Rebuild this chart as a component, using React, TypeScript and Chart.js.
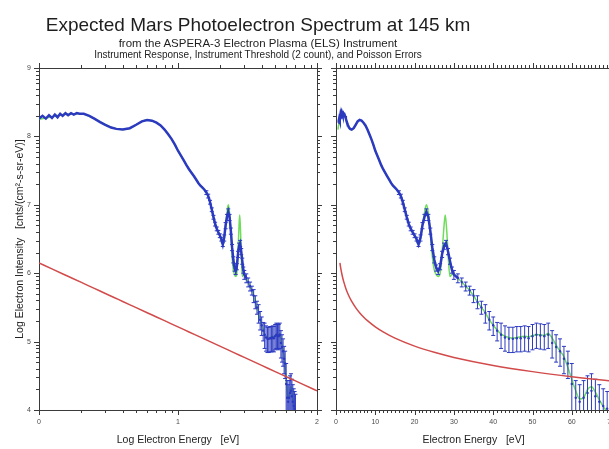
import React, { useEffect, useRef } from 'react';
import { Chart, registerables } from 'chart.js';

Chart.register(...registerables);

// ---------------- data ----------------
const blueEnergy = [
  0.6, 0.7, 0.8, 0.9, 1.0, 1.06, 1.12, 1.18, 1.24, 1.3, 1.36, 1.42, 1.48, 1.55, 1.62, 1.7, 1.78, 1.87, 1.96,
  2.1, 2.3, 2.5, 2.75, 3.0, 3.3, 3.6, 4.0, 4.5,
  5.0, 5.5, 6.0, 6.5, 7.0, 7.5, 8.0, 8.5, 9.0, 9.5, 10, 10.5, 11, 11.5, 12, 12.5, 13, 13.5, 14, 14.5, 15, 15.5,
  16, 16.5, 17, 17.5, 18, 18.5, 19, 19.5, 20, 20.5, 21, 21.5, 22, 22.5, 23, 23.5, 24, 24.5, 25, 25.5, 26, 26.5, 27, 27.5, 28, 28.5, 29, 29.5,
  30, 31, 32, 33, 34, 35, 36, 37, 38, 39, 40, 41, 42, 43, 44, 45, 46, 47, 48, 49,
  50, 51, 52, 53, 54, 55, 56, 57, 58, 59, 60, 61, 62, 63, 64, 65, 66, 67, 68, 69, 70,
];
const blueIntensity = [
  8.20, 8.23, 8.26, 8.23, 8.26, 8.30, 8.26, 8.31, 8.27, 8.32, 8.28, 8.33, 8.30, 8.34, 8.31, 8.34, 8.32, 8.34, 8.33,
  8.33, 8.30, 8.26, 8.21, 8.17, 8.13, 8.11, 8.10, 8.12,
  8.17, 8.22, 8.24, 8.23, 8.20, 8.16, 8.10, 8.03, 7.96, 7.88, 7.79, 7.72, 7.65, 7.58, 7.52, 7.47, 7.42, 7.37, 7.32, 7.28, 7.25, 7.22,
  7.18, 7.13, 7.04, 6.93, 6.82, 6.72, 6.65, 6.60, 6.55, 6.50, 6.42, 6.52, 6.70, 6.82, 6.90, 6.82, 6.62, 6.38, 6.20, 6.08, 6.03, 6.10, 6.28, 6.40, 6.44, 6.32, 6.18, 6.05,
  5.98, 5.93, 5.87, 5.81, 5.75, 5.67, 5.58, 5.50, 5.42, 5.32, 5.24, 5.16, 5.10, 5.06, 5.04, 5.04, 5.05, 5.05, 5.06, 5.05,
  5.08, 5.10, 5.09, 5.08, 5.10, 4.98, 4.92, 4.86, 4.75, 4.68, 4.38, 4.18, 4.12, 4.18, 4.25, 4.28, 4.20, 4.12, 4.06, 4.02, 3.98,
];
const blueErrUp = [
  0, 0, 0, 0, 0, 0, 0, 0, 0, 0, 0, 0, 0, 0, 0, 0, 0, 0, 0,
  0, 0, 0, 0, 0, 0, 0, 0, 0,
  0, 0, 0, 0, 0, 0, 0, 0, 0, 0, 0, 0, 0, 0, 0, 0, 0, 0, 0, 0, 0, 0,
  0.025, 0.025, 0.025, 0.025, 0.025, 0.025, 0.025, 0.025, 0.025, 0.025, 0.025,
  0.04, 0.04, 0.04, 0.04, 0.04, 0.04, 0.04, 0.04, 0.04, 0.04, 0.04, 0.04, 0.04, 0.04, 0.04, 0.04, 0.04,
  0.06, 0.06, 0.06, 0.06, 0.06, 0.09, 0.09, 0.09, 0.12, 0.12, 0.12, 0.12, 0.17, 0.17, 0.17, 0.17, 0.17, 0.17, 0.17, 0.17,
  0.17, 0.17, 0.17, 0.17, 0.17, 0.18, 0.18, 0.18, 0.18, 0.18, 0.30, 0.25, 0.25, 0.25, 0.25, 0.25, 0.25, 0.25, 0.25, 0.25, 0.25,
];
const blueErrDown = [
  0, 0, 0, 0, 0, 0, 0, 0, 0, 0, 0, 0, 0, 0, 0, 0, 0, 0, 0,
  0, 0, 0, 0, 0, 0, 0, 0, 0,
  0, 0, 0, 0, 0, 0, 0, 0, 0, 0, 0, 0, 0, 0, 0, 0, 0, 0, 0, 0, 0, 0,
  0.03, 0.03, 0.03, 0.03, 0.03, 0.03, 0.03, 0.03, 0.03, 0.03, 0.03,
  0.05, 0.05, 0.05, 0.05, 0.05, 0.05, 0.05, 0.05, 0.05, 0.05, 0.05, 0.05, 0.05, 0.05, 0.05, 0.05, 0.05,
  0.07, 0.07, 0.07, 0.07, 0.07, 0.10, 0.10, 0.10, 0.15, 0.15, 0.15, 0.15, 0.20, 0.20, 0.20, 0.20, 0.20, 0.20, 0.20, 0.20,
  0.20, 0.20, 0.20, 0.20, 0.20, 0.22, 0.22, 0.22, 0.22, 0.22, 0.50, 0.60, 0.60, 0.60, 0.60, 0.60, 0.60, 0.60, 0.60, 0.60, 0.60,
];

const greenEnergy = [
  0.5, 0.7, 0.9, 1.0, 1.2, 1.5, 2.0, 2.5, 3.0, 3.6, 4.0, 4.5, 5.0, 5.5, 6.0, 7.0, 8.0, 9.0, 10, 11, 12, 13, 14, 15,
  16, 17, 18, 19, 20, 21, 21.5, 22, 22.5, 23, 23.5, 24, 24.5, 25, 25.5, 26, 26.5, 27, 27.5, 27.8, 28.2, 28.6, 29, 29.5,
  30, 31, 32, 33, 34, 35, 36, 37, 38, 39, 40, 41, 42, 43, 44, 45, 46, 47, 48, 49, 50, 51, 52, 53, 54, 55, 56, 57, 58, 59,
  60, 61, 62, 63, 64, 65, 66, 67, 68, 69, 70, 71,
];
const greenIntensity = [
  8.10, 8.18, 8.22, 8.25, 8.28, 8.32, 8.33, 8.26, 8.17, 8.11, 8.10, 8.12, 8.17, 8.22, 8.24, 8.20, 8.10, 7.96, 7.79, 7.65, 7.52, 7.42, 7.32, 7.25,
  7.18, 7.04, 6.82, 6.65, 6.55, 6.42, 6.50, 6.70, 6.88, 7.00, 6.88, 6.60, 6.25, 6.05, 5.98, 5.95, 6.00, 6.30, 6.70, 6.85, 6.60, 6.20, 5.95, 5.98,
  5.98, 5.93, 5.87, 5.81, 5.75, 5.67, 5.58, 5.50, 5.42, 5.32, 5.24, 5.17, 5.11, 5.08, 5.06, 5.05, 5.06, 5.07, 5.08, 5.07, 5.09, 5.10, 5.10, 5.09, 5.12, 5.05, 4.95, 4.86, 4.78, 4.62,
  4.45, 4.28, 4.16, 4.18, 4.30, 4.34, 4.26, 4.15, 4.05, 3.98, 3.92, 3.85,
];

const thresholdEnergy = [1, 1.25, 1.5, 1.75, 2, 2.5, 3, 3.5, 4, 5, 6, 7, 8, 10, 12, 15, 20, 25, 30, 40, 50, 60, 70, 80, 100];
const thresholdIntensity = [
  6.15, 6.059, 5.985, 5.923, 5.869, 5.778, 5.704, 5.641, 5.587, 5.496, 5.422, 5.36, 5.306, 5.215, 5.141, 5.05, 4.934,
  4.843, 4.769, 4.652, 4.561, 4.487, 4.425, 4.371, 4.28,
];

const logEnergyTicks = [0, 1, 2];
const energyTicks = [0, 10, 20, 30, 40, 50, 60, 70];
const intensityTicks = [4, 5, 6, 7, 8, 9];

// ---------------- styles ----------------
const BLUE = '#2c3ac0';
const GREEN = '#6fdc5c';
const RED = '#d24a4a';
const AXIS = '#3a3a3a';
const LABEL = '#4a4a4a';
const FONT = '"Liberation Sans", Arial, Helvetica, sans-serif';

type Side = 'left' | 'right' | 'top' | 'bottom';
type TickDef = { id: string; side: Side; major: number[]; minor: number[] };

function makeTickPlugin(defs: TickDef[]) {
  return {
    id: 'customTicks',
    afterDraw(chart: any) {
      const ctx = chart.ctx as CanvasRenderingContext2D;
      const ca = chart.chartArea;
      ctx.save();
      ctx.strokeStyle = AXIS;
      ctx.lineWidth = 1;
      for (const d of defs) {
        const s = chart.scales[d.id];
        if (!s) continue;
        const draw = (v: number, len: number) => {
          const p = Math.round(s.getPixelForValue(v)) + 0.5;
          ctx.beginPath();
          if (d.side === 'bottom') {
            const y0 = Math.round(ca.bottom);
            ctx.moveTo(p, y0);
            ctx.lineTo(p, y0 + len);
          } else if (d.side === 'top') {
            const y0 = Math.round(ca.top);
            ctx.moveTo(p, y0);
            ctx.lineTo(p, y0 - len);
          } else if (d.side === 'left') {
            const x0 = Math.round(ca.left);
            ctx.moveTo(x0, p);
            ctx.lineTo(x0 - len, p);
          } else {
            const x0 = Math.round(ca.right);
            ctx.moveTo(x0, p);
            ctx.lineTo(x0 + len, p);
          }
          ctx.stroke();
        };
        d.minor.forEach((v) => draw(v, 3));
        d.major.forEach((v) => draw(v, 5));
      }
      ctx.restore();
    },
  };
}

const errorBarPlugin = {
  id: 'errorBars',
  afterDatasetDraw(chart: any, args: any) {
    const ds = chart.data.datasets[args.index];
    if (!ds.errUp) return;
    const ctx = chart.ctx as CanvasRenderingContext2D;
    const ca = chart.chartArea;
    const xs = chart.scales.x;
    const ys = chart.scales.y;
    ctx.save();
    ctx.beginPath();
    ctx.rect(ca.left, ca.top, ca.right - ca.left, ca.bottom - ca.top);
    ctx.clip();
    ctx.strokeStyle = BLUE;
    ctx.lineWidth = 1;
    ds.data.forEach((pt: any, i: number) => {
      const up = ds.errUp[i];
      const dn = ds.errDown[i];
      if (!up && !dn) return;
      const x = xs.getPixelForValue(pt.x);
      const y1 = ys.getPixelForValue(pt.y + up);
      const y2 = ys.getPixelForValue(pt.y - dn);
      ctx.beginPath();
      ctx.moveTo(x, y1);
      ctx.lineTo(x, y2);
      ctx.moveTo(x - 2, y1);
      ctx.lineTo(x + 2, y1);
      ctx.moveTo(x - 2, y2);
      ctx.lineTo(x + 2, y2);
      ctx.stroke();
    });
    ctx.restore();
  },
};

function logMinor(from: number, to: number): number[] {
  const out: number[] = [];
  for (let n = from; n < to; n++) for (let k = 2; k <= 9; k++) out.push(n + Math.log10(k));
  return out;
}
function linMinor(from: number, to: number, step: number): number[] {
  const out: number[] = [];
  for (let v = from; v <= to + 1e-9; v += step) out.push(v);
  return out;
}

function buildDatasets(tx: (e: number) => number, lineCut: number) {
  return [
    {
      label: 'threshold',
      data: thresholdEnergy.map((e, i) => ({ x: tx(e), y: thresholdIntensity[i] })),
      showLine: true,
      borderColor: RED,
      borderWidth: 1.5,
      pointRadius: 0,
      cubicInterpolationMode: 'monotone',
      order: 0,
    },
    {
      label: 'measured',
      data: blueEnergy.map((e, i) => ({ x: tx(e), y: blueIntensity[i] })),
      errUp: blueErrUp,
      errDown: blueErrDown,
      showLine: true,
      borderColor: BLUE,
      backgroundColor: BLUE,
      borderWidth: 2.5,
      pointRadius: (c: any) => (blueEnergy[c.dataIndex] > 30 ? 1.2 : 0),
      pointBorderWidth: 0,
      segment: {
        borderColor: (c: any) => (c.p0.parsed.x >= lineCut ? 'rgba(0,0,0,0)' : BLUE),
      },
      order: 1,
    },
    {
      label: 'model',
      data: greenEnergy.map((e, i) => ({ x: tx(e), y: greenIntensity[i] })),
      showLine: true,
      borderColor: GREEN,
      borderWidth: 1.5,
      pointRadius: 0,
      cubicInterpolationMode: 'monotone',
      order: 2,
    },
  ];
}

const tickFont = { family: FONT, size: 7 };
const titleFont = { family: FONT, size: 10.5 };

function baseOptions(scales: any) {
  return {
    animation: false,
    responsive: false,
    devicePixelRatio: 1,
    events: [],
    layout: { padding: 0 },
    plugins: { legend: { display: false }, tooltip: { enabled: false }, title: { display: false } },
    scales,
  };
}

export default function App() {
  const leftRef = useRef<HTMLCanvasElement>(null);
  const rightRef = useRef<HTMLCanvasElement>(null);

  useEffect(() => {
    const hidden = { display: false };
    const border = { display: true, color: AXIS, width: 1 };

    const left = new Chart(leftRef.current as HTMLCanvasElement, {
      type: 'scatter',
      data: { datasets: buildDatasets((e) => Math.log10(e), Math.log10(30.5)) as any },
      options: baseOptions({
        x: {
          type: 'linear', position: 'bottom', min: 0, max: 2,
          afterBuildTicks: (s: any) => { s.ticks = logEnergyTicks.map((v) => ({ value: v })); },
          afterFit: (s: any) => { s.height = 39; },
          grid: { display: false, drawTicks: true, tickLength: 5 },
          border,
          ticks: { font: tickFont, color: LABEL, padding: 3, maxRotation: 0, autoSkip: false, callback: (v: any) => String(v) },
          title: { display: true, text: 'Log Electron Energy   [eV]', font: titleFont, color: '#222', padding: { top: 0, bottom: 3 } },
        },
        xTop: {
          type: 'linear', position: 'top', min: 0, max: 2,
          afterFit: (s: any) => { s.height = 68; },
          grid: hidden, border, ticks: hidden,
        },
        y: {
          type: 'linear', position: 'left', min: 4, max: 9,
          afterBuildTicks: (s: any) => { s.ticks = intensityTicks.map((v) => ({ value: v })); },
          afterFit: (s: any) => { s.width = 39; },
          grid: { display: false, drawTicks: true, tickLength: 5 },
          border,
          ticks: { font: tickFont, color: LABEL, padding: 3, autoSkip: false, callback: (v: any) => String(v) },
          title: { display: true, text: 'Log Electron Intensity   [cnts/(cm²-s-sr-eV)]', font: titleFont, color: '#222', padding: { top: 13.5, bottom: 0 } },
        },
        yRight: {
          type: 'linear', position: 'right', min: 4, max: 9,
          afterFit: (s: any) => { s.width = 8; },
          grid: hidden, border, ticks: hidden,
        },
      }) as any,
      plugins: [
        errorBarPlugin,
        makeTickPlugin([
          { id: 'x', side: 'bottom', major: logEnergyTicks, minor: logMinor(0, 2) },
          { id: 'xTop', side: 'top', major: logEnergyTicks, minor: logMinor(0, 2) },
          { id: 'y', side: 'left', major: intensityTicks, minor: logMinor(4, 9) },
          { id: 'yRight', side: 'right', major: intensityTicks, minor: logMinor(4, 9) },
        ]),
      ],
    });

    const right = new Chart(rightRef.current as HTMLCanvasElement, {
      type: 'scatter',
      data: { datasets: buildDatasets((e) => e, 30.5) as any },
      options: baseOptions({
        x: {
          type: 'linear', position: 'bottom', min: 0, max: 70,
          afterBuildTicks: (s: any) => { s.ticks = energyTicks.map((v) => ({ value: v })); },
          afterFit: (s: any) => { s.height = 39; },
          grid: { display: false, drawTicks: true, tickLength: 5 },
          border,
          ticks: { font: tickFont, color: LABEL, padding: 3, maxRotation: 0, autoSkip: false, callback: (v: any) => String(v) },
          title: { display: true, text: 'Electron Energy   [eV]', font: titleFont, color: '#222', padding: { top: 0, bottom: 3 } },
        },
        xTop: {
          type: 'linear', position: 'top', min: 0, max: 70,
          afterFit: (s: any) => { s.height = 68; },
          grid: hidden, border, ticks: hidden,
        },
        y: {
          type: 'linear', position: 'left', min: 4, max: 9,
          afterFit: (s: any) => { s.width = 10; },
          grid: hidden, border, ticks: hidden,
        },
        yRight: {
          type: 'linear', position: 'right', min: 4, max: 9,
          afterFit: (s: any) => { s.width = 5.5; },
          grid: hidden, border, ticks: hidden,
        },
      }) as any,
      plugins: [
        errorBarPlugin,
        makeTickPlugin([
          { id: 'x', side: 'bottom', major: energyTicks, minor: linMinor(0, 70, 1) },
          { id: 'xTop', side: 'top', major: energyTicks, minor: linMinor(0, 70, 1) },
          { id: 'y', side: 'left', major: intensityTicks, minor: logMinor(4, 9) },
        ]),
      ],
    });

    return () => {
      left.destroy();
      right.destroy();
    };
  }, []);

  const textBase: React.CSSProperties = {
    position: 'absolute',
    left: 0,
    width: 516,
    textAlign: 'center',
    whiteSpace: 'nowrap',
    fontFamily: FONT,
    color: '#1e1e1e',
  };

  return (
    <div style={{ position: 'fixed', left: 0, top: 0, width: 609, height: 449, overflow: 'hidden', background: '#fff' }}>
      <canvas ref={leftRef} width={325} height={449} style={{ position: 'absolute', left: 0, top: 0 }} />
      <canvas ref={rightRef} width={292} height={449} style={{ position: 'absolute', left: 326, top: 0 }} />
      <div style={{ ...textBase, top: 15, fontSize: 19, lineHeight: '19px' }}>Expected Mars Photoelectron Spectrum at 145 km</div>
      <div style={{ ...textBase, top: 37.6, fontSize: 11.5, lineHeight: '11.5px' }}>from the ASPERA-3 Electron Plasma (ELS) Instrument</div>
      <div style={{ ...textBase, top: 49.5, fontSize: 10, lineHeight: '10px' }}>Instrument Response, Instrument Threshold (2 count), and Poisson Errors</div>
    </div>
  );
}
